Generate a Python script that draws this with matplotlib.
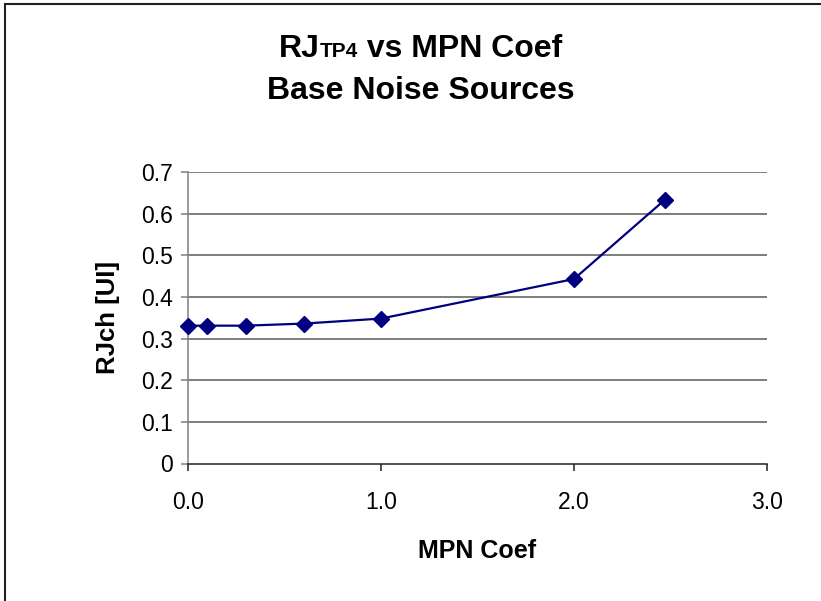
import matplotlib
matplotlib.use("Agg")
import matplotlib.pyplot as plt
from matplotlib.patches import Rectangle

# ------------------------------------------------------------
# Dados: RJ no TP4 em função do coeficiente MPN
# ------------------------------------------------------------
MPN_COEF = [0.0, 0.1, 0.3, 0.6, 1.0, 2.0, 2.47]
RJ_CH = [0.331, 0.331, 0.331, 0.336, 0.348, 0.443, 0.633]

X_TICKS = [0.0, 1.0, 2.0, 3.0]
Y_TICKS = [0, 0.1, 0.2, 0.3, 0.4, 0.5, 0.6, 0.7]
Y_TICK_LABELS = ["0", "0.1", "0.2", "0.3", "0.4", "0.5", "0.6", "0.7"]

NAVY = "#000080"
FONT = "Liberation Sans"

plt.rcParams["font.family"] = FONT

W, H, DPI = 821, 601, 100
fig = plt.figure(figsize=(W / DPI, H / DPI), dpi=DPI)

# moldura externa (só aparecem as bordas esquerda e superior)
fig.patches.append(Rectangle((5 / W, -0.1), 1.2, 1 - 4 / H + 0.1,
                             transform=fig.transFigure, fill=False,
                             edgecolor="#202020", linewidth=1.5))

ax = fig.add_axes([188 / W, 1 - 463.5 / H, (767 - 188) / W, (463.5 - 172) / H])

ax.plot(MPN_COEF, RJ_CH, color=NAVY, linewidth=1.6, marker="D",
        markersize=8, markerfacecolor=NAVY, markeredgecolor=NAVY,
        zorder=3, clip_on=False)

ax.set_xlim(0, 3.0)
ax.set_ylim(0, 0.7)
ax.set_xticks(X_TICKS)
ax.set_xticklabels([f"{v:.1f}" for v in X_TICKS])
ax.set_yticks(Y_TICKS)
ax.set_yticklabels(Y_TICK_LABELS)

for y in Y_TICKS[1:]:
    ax.axhline(y, color="#5a5a5a", linewidth=1.1, zorder=1)

ax.spines["top"].set_visible(False)
ax.spines["right"].set_visible(False)
ax.spines["left"].set_color("#808080")
ax.spines["left"].set_linewidth(1.1)
ax.spines["bottom"].set_color("#202020")
ax.spines["bottom"].set_linewidth(1.1)

ax.tick_params(axis="both", direction="out", length=5, width=1.1,
               labelsize=16.5, pad=6)
ax.tick_params(axis="y", colors="#808080", labelcolor="black")
ax.tick_params(axis="x", colors="#202020", labelcolor="black", pad=15)

ax.set_xlabel("MPN Coef", fontsize=18, fontweight="bold", labelpad=18)
ax.set_ylabel("RJch [UI]", fontsize=18.5, fontweight="bold")
ax.yaxis.set_label_coords(-0.117, 0.5)

# ------------------------------------------------------------
# Título com "TP4" menor, na mesma linha de base
# ------------------------------------------------------------
renderer = fig.canvas.get_renderer()
parts = [("RJ", 23), ("TP4", 15), (" vs MPN Coef", 23)]
widths = []
for txt, size in parts:
    t = fig.text(0, 0, txt, fontsize=size, fontweight="bold")
    widths.append(t.get_window_extent(renderer).width)
    t.remove()

x = 421 - sum(widths) / 2
baseline = H - 57
for (txt, size), w in zip(parts, widths):
    fig.text(x / W, baseline / H, txt, fontsize=size, fontweight="bold",
             ha="left", va="baseline")
    x += w

fig.text(421 / W, (H - 99) / H, "Base Noise Sources", fontsize=23,
         fontweight="bold", ha="center", va="baseline")

fig.savefig("out.png", dpi=DPI)
